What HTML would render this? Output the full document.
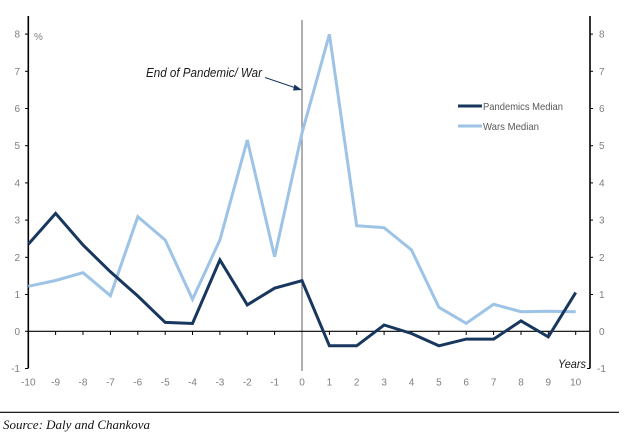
<!DOCTYPE html>
<html><head><meta charset="utf-8"><style>
html,body{margin:0;padding:0;background:#fff;}
svg{display:block;}
.t{font-family:"Liberation Sans",sans-serif;font-size:10px;fill:#7f7f7f;}
</style></head><body>
<svg width="631" height="435" viewBox="0 0 631 435" xmlns="http://www.w3.org/2000/svg">
<rect width="631" height="435" fill="#fff"/>
<!-- vertical marker line -->
<line x1="302" y1="20" x2="302" y2="371" stroke="#7a7a7a" stroke-width="1.2"/>
<!-- left axis -->
<line x1="28.3" y1="16" x2="28.3" y2="368.5" stroke="#000" stroke-width="1.6"/>
<g stroke="#000" stroke-width="1">
<line x1="25" y1="34.1" x2="28" y2="34.1"/>
<line x1="25" y1="71.3" x2="28" y2="71.3"/>
<line x1="25" y1="108.5" x2="28" y2="108.5"/>
<line x1="25" y1="145.7" x2="28" y2="145.7"/>
<line x1="25" y1="182.9" x2="28" y2="182.9"/>
<line x1="25" y1="220.1" x2="28" y2="220.1"/>
<line x1="25" y1="257.3" x2="28" y2="257.3"/>
<line x1="25" y1="294.5" x2="28" y2="294.5"/>
<line x1="25" y1="331.3" x2="28" y2="331.3"/>
<line x1="25" y1="368.5" x2="28" y2="368.5"/>
</g>
<!-- right axis -->
<line x1="590" y1="16" x2="590" y2="368.5" stroke="#000" stroke-width="1.6"/>
<g stroke="#000" stroke-width="1">
<line x1="590" y1="34.1" x2="593" y2="34.1"/>
<line x1="590" y1="71.3" x2="593" y2="71.3"/>
<line x1="590" y1="108.5" x2="593" y2="108.5"/>
<line x1="590" y1="145.7" x2="593" y2="145.7"/>
<line x1="590" y1="182.9" x2="593" y2="182.9"/>
<line x1="590" y1="220.1" x2="593" y2="220.1"/>
<line x1="590" y1="257.3" x2="593" y2="257.3"/>
<line x1="590" y1="294.5" x2="593" y2="294.5"/>
<line x1="587" y1="368.5" x2="590" y2="368.5"/>
</g>
<!-- x axis -->
<line x1="28" y1="331.3" x2="590" y2="331.3" stroke="#000" stroke-width="1.2"/>
<g stroke="#000" stroke-width="1">
<line x1="55.6" y1="331" x2="55.6" y2="335"/>
<line x1="83.0" y1="331" x2="83.0" y2="335"/>
<line x1="110.4" y1="331" x2="110.4" y2="335"/>
<line x1="137.8" y1="331" x2="137.8" y2="335"/>
<line x1="165.2" y1="331" x2="165.2" y2="335"/>
<line x1="192.5" y1="331" x2="192.5" y2="335"/>
<line x1="219.9" y1="331" x2="219.9" y2="335"/>
<line x1="247.3" y1="331" x2="247.3" y2="335"/>
<line x1="274.6" y1="331" x2="274.6" y2="335"/>
<line x1="329.4" y1="331" x2="329.4" y2="335"/>
<line x1="356.7" y1="331" x2="356.7" y2="335"/>
<line x1="384.1" y1="331" x2="384.1" y2="335"/>
<line x1="411.5" y1="331" x2="411.5" y2="335"/>
<line x1="438.9" y1="331" x2="438.9" y2="335"/>
<line x1="466.2" y1="331" x2="466.2" y2="335"/>
<line x1="493.6" y1="331" x2="493.6" y2="335"/>
<line x1="521.0" y1="331" x2="521.0" y2="335"/>
<line x1="548.3" y1="331" x2="548.3" y2="335"/>
<line x1="575.7" y1="331" x2="575.7" y2="335"/>
</g>
<!-- left labels -->
<g class="t" text-anchor="end">
<text x="20" y="37.6">8</text>
<text x="20" y="74.8">7</text>
<text x="20" y="112">6</text>
<text x="20" y="149.2">5</text>
<text x="20" y="186.4">4</text>
<text x="20" y="223.6">3</text>
<text x="20" y="260.8">2</text>
<text x="20" y="298">1</text>
<text x="20" y="334.8">0</text>
<text x="20" y="372">-1</text>
</g>
<!-- right labels -->
<g class="t" text-anchor="start">
<text x="599" y="37.6">8</text>
<text x="599" y="74.8">7</text>
<text x="599" y="112">6</text>
<text x="599" y="149.2">5</text>
<text x="599" y="186.4">4</text>
<text x="599" y="223.6">3</text>
<text x="599" y="260.8">2</text>
<text x="599" y="298">1</text>
<text x="599" y="334.8">0</text>
<text x="597" y="372">-1</text>
</g>
<!-- x labels -->
<g class="t" text-anchor="middle">
<text x="28.3" y="385.5">-10</text>
<text x="55.6" y="385.5">-9</text>
<text x="83.0" y="385.5">-8</text>
<text x="110.4" y="385.5">-7</text>
<text x="137.8" y="385.5">-6</text>
<text x="165.2" y="385.5">-5</text>
<text x="192.5" y="385.5">-4</text>
<text x="219.9" y="385.5">-3</text>
<text x="247.3" y="385.5">-2</text>
<text x="274.6" y="385.5">-1</text>
<text x="302" y="385.5">0</text>
<text x="329.4" y="385.5">1</text>
<text x="356.7" y="385.5">2</text>
<text x="384.1" y="385.5">3</text>
<text x="411.5" y="385.5">4</text>
<text x="438.9" y="385.5">5</text>
<text x="466.2" y="385.5">6</text>
<text x="493.6" y="385.5">7</text>
<text x="521.0" y="385.5">8</text>
<text x="548.3" y="385.5">9</text>
<text x="575.7" y="385.5">10</text>
</g>
<text x="34" y="40" class="t" style="font-size:10px">%</text>
<text x="558" y="368" textLength="28" lengthAdjust="spacingAndGlyphs" style="font-family:'Liberation Sans',sans-serif;font-size:12px;font-style:italic;fill:#1a1a1a">Years</text>
<!-- series -->
<polyline fill="none" stroke="#9dc3e6" stroke-width="3" stroke-linejoin="miter" points="28.3,286.3 55.6,280.5 83.0,272.7 110.4,295.7 137.8,216.7 165.2,240.0 192.5,299.3 219.9,240.0 247.3,140.0 274.6,256.7 302,133 329.4,34.3 356.7,225.7 384.1,227.7 411.5,250.0 438.9,307.3 466.2,323.3 493.6,304.3 521.0,311.7 548.3,311.3 575.7,311.7"/>
<polyline fill="none" stroke="#17375e" stroke-width="3" stroke-linejoin="miter" points="28.3,244.2 55.6,213.4 83.0,245.0 110.4,271.8 137.8,296.0 165.2,322.4 192.5,323.5 219.9,259.9 247.3,304.9 274.6,288.2 302,280.7 329.4,345.8 356.7,345.8 384.1,325.0 411.5,333.5 438.9,345.8 466.2,339.1 493.6,339.1 521.0,320.9 548.3,336.9 575.7,292.6"/>
<!-- annotation -->
<text x="146" y="77" textLength="116" lengthAdjust="spacingAndGlyphs" style="font-family:'Liberation Sans',sans-serif;font-size:12.5px;font-style:italic;fill:#1a1a1a">End of Pandemic/ War</text>
<line x1="265" y1="77.5" x2="296" y2="88" stroke="#17375e" stroke-width="1"/>
<polygon points="302,90 294.5,84.5 293,90.5" fill="#17375e"/>
<!-- legend -->
<line x1="458" y1="106" x2="482" y2="106" stroke="#17375e" stroke-width="3"/>
<line x1="458" y1="126" x2="482" y2="126" stroke="#9dc3e6" stroke-width="3"/>
<text x="483" y="109.8" textLength="80" lengthAdjust="spacingAndGlyphs" style="font-family:'Liberation Sans',sans-serif;font-size:10.5px;fill:#595959">Pandemics Median</text>
<text x="483" y="129.8" textLength="56" lengthAdjust="spacingAndGlyphs" style="font-family:'Liberation Sans',sans-serif;font-size:10.5px;fill:#595959">Wars Median</text>
<!-- source -->
<line x1="0" y1="412.3" x2="619" y2="412.3" stroke="#000" stroke-width="1.2"/>
<text x="3" y="429" textLength="147" lengthAdjust="spacingAndGlyphs" style="font-family:'Liberation Serif',serif;font-size:13px;font-style:italic;fill:#111">Source: Daly and Chankova</text>
</svg>
</body></html>
